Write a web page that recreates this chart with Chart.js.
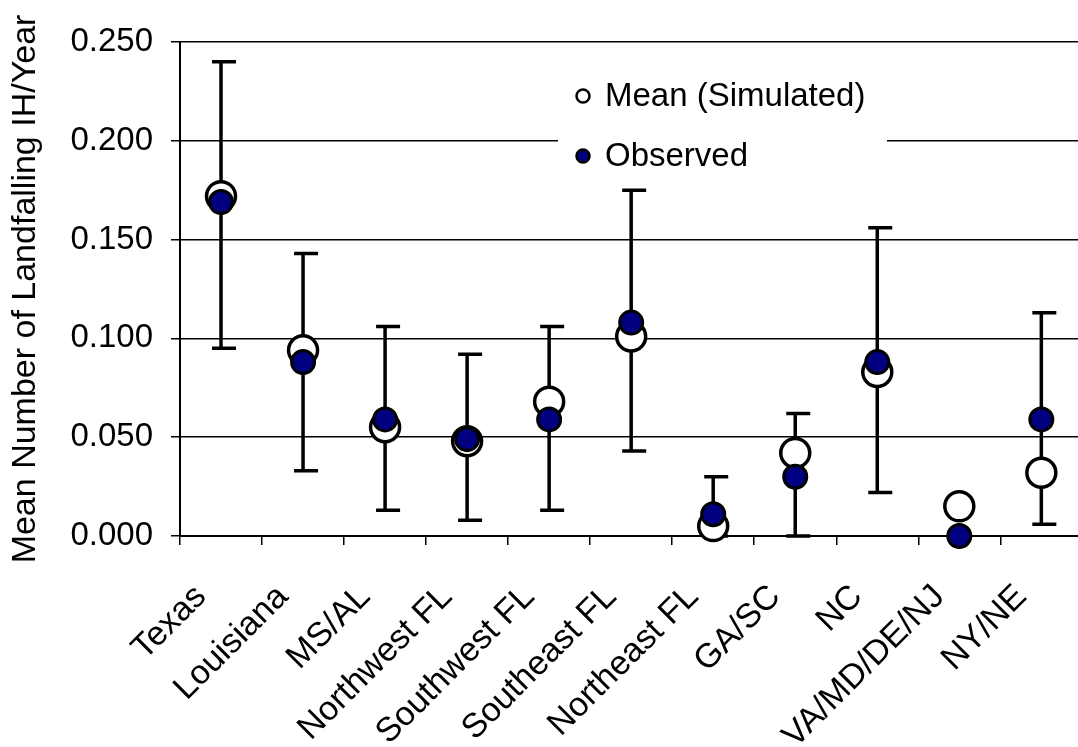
<!DOCTYPE html>
<html>
<head>
<meta charset="utf-8">
<title>Landfalling IH per Year by Region</title>
<script src="https://cdn.jsdelivr.net/npm/chart.js@4/dist/chart.umd.min.js"></script>
<style>
  html, body { margin: 0; padding: 0; background: #fff; overflow: hidden; width: 1078px; height: 747px; }
  #wrap { position: absolute; left: 0; top: 0; width: 1103px; height: 747px; }
</style>
</head>
<body>
<div id="wrap"><canvas id="chart"></canvas></div>
<script>
// Regions along the coast
const categories = ['Texas', 'Louisiana', 'MS/AL', 'Northwest FL', 'Southwest FL', 'Southeast FL',
                    'Northeast FL', 'GA/SC', 'NC', 'VA/MD/DE/NJ', 'NY/NE'];
// Mean of the simulated landfall rate
const meanSimulated = [0.172, 0.094, 0.055, 0.048, 0.068, 0.101, 0.005, 0.042, 0.083, 0.015, 0.032];
// Observed landfall rate
const observed = [0.169, 0.088, 0.059, 0.049, 0.059, 0.108, 0.011, 0.030, 0.088, 0.000, 0.059];
// Range of the simulated rate (lower / upper ends of the bars)
const rangeLow = [0.095, 0.033, 0.013, 0.008, 0.013, 0.043, 0.000, 0.000, 0.022, null, 0.006];
const rangeHigh = [0.240, 0.143, 0.106, 0.092, 0.106, 0.175, 0.030, 0.062, 0.156, null, 0.113];
// Value axis ticks
const yTicks = [0, 0.05, 0.10, 0.15, 0.20, 0.25];

const FONT = '"Liberation Sans", Arial, sans-serif';
Chart.defaults.font.family = FONT;
Chart.defaults.color = '#000';

// Range bars and the in-plot legend
const rangeBars = {
  id: 'rangeBars',
  beforeDatasetsDraw(chart) {
    const { ctx, scales: { x, y } } = chart;
    ctx.save();

    // legend panel
    ctx.fillStyle = '#fff';
    ctx.fillRect(558, 68, 329, 114);
    const items = [
      { text: 'Mean (Simulated)', fill: '#fff', cy: 96 },
      { text: 'Observed', fill: '#000080', cy: 156 }
    ];
    ctx.font = '33px ' + FONT;
    ctx.textBaseline = 'middle';
    ctx.textAlign = 'left';
    items.forEach(it => {
      ctx.beginPath();
      ctx.arc(583, it.cy, 6.5, 0, Math.PI * 2);
      ctx.fillStyle = it.fill;
      ctx.fill();
      ctx.lineWidth = 2.5;
      ctx.strokeStyle = '#000';
      ctx.stroke();
      ctx.fillStyle = '#000';
      ctx.fillText(it.text, 605, it.cy + 1);
    });

    // range bars
    ctx.strokeStyle = '#000';
    ctx.lineWidth = 3.5;
    ctx.lineCap = 'butt';
    categories.forEach((c, i) => {
      if (rangeLow[i] == null || rangeHigh[i] == null) return;
      const px = x.getPixelForValue(i);
      const yl = y.getPixelForValue(rangeLow[i]);
      const yh = y.getPixelForValue(rangeHigh[i]);
      ctx.beginPath();
      ctx.moveTo(px, yl);
      ctx.lineTo(px, yh);
      ctx.moveTo(px - 9, yh);
      ctx.lineTo(px + 15, yh);
      ctx.moveTo(px - 9, yl);
      ctx.lineTo(px + 15, yl);
      ctx.stroke();
    });
    ctx.restore();
  }
};

new Chart(document.getElementById('chart'), {
  type: 'line',
  data: {
    labels: categories,
    datasets: [
      {
        label: 'Observed',
        data: observed,
        showLine: false,
        pointRadius: 11.5,
        pointHoverRadius: 11.5,
        pointBackgroundColor: '#000080',
        pointBorderColor: '#000',
        pointBorderWidth: 3,
        clip: false,
        order: 0
      },
      {
        label: 'Mean (Simulated)',
        data: meanSimulated,
        showLine: false,
        pointRadius: 14.5,
        pointHoverRadius: 14.5,
        pointBackgroundColor: '#fff',
        pointBorderColor: '#000',
        pointBorderWidth: 3.5,
        clip: false,
        order: 1
      }
    ]
  },
  options: {
    responsive: true,
    maintainAspectRatio: false,
    animation: false,
    events: [],
    layout: { padding: { top: 42, right: 8, left: 0, bottom: 0 } },
    plugins: { legend: { display: false }, tooltip: { enabled: false } },
    scales: {
      x: {
        type: 'category',
        offset: true,
        grid: { offset: true, drawOnChartArea: false, drawTicks: true, tickLength: 9, color: '#000', lineWidth: 1.5 },
        border: { color: '#000', width: 2 },
        ticks: {
          minRotation: 45, maxRotation: 45, autoSkip: false,
          font: { size: 34 }, color: '#000', padding: 32, labelOffset: -20
        },
        afterFit(s) { s.height = 211; }
      },
      y: {
        min: 0, max: 0.25,
        afterBuildTicks(s) { s.ticks = yTicks.map(v => ({ value: v })); },
        grid: { color: '#000', lineWidth: 1.5, tickLength: 9 },
        border: { color: '#000', width: 2 },
        ticks: { font: { size: 33 }, color: '#000', padding: 18, callback: v => v.toFixed(3) },
        title: {
          display: true,
          text: 'Mean Number of Landfalling IH/Year',
          font: { size: 34 }, color: '#000',
          padding: { top: 5, bottom: 0 }
        },
        afterFit(s) { s.width = 180; }
      }
    }
  },
  plugins: [rangeBars]
});
</script>
</body>
</html>
